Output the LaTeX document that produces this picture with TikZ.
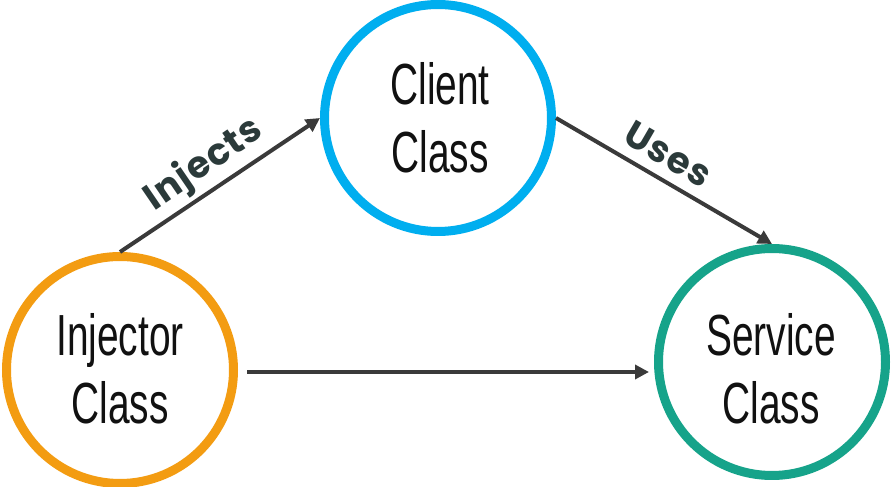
\documentclass[tikz,border=0pt]{standalone}
\usepackage{fontspec}
\usetikzlibrary{arrows.meta}
\newfontfamily\condfont[FakeStretch=0.67]{Liberation Sans}
\newfontfamily\labfont[LetterSpace=3]{Poppins}
\definecolor{cblue}{RGB}{0,174,239}
\definecolor{corange}{RGB}{243,156,18}
\definecolor{cteal}{RGB}{22,163,138}
\definecolor{carrow}{RGB}{58,58,58}
\definecolor{ctext}{RGB}{17,17,17}
\definecolor{clabel}{RGB}{43,58,58}
\tikzset{
  ring/.style={circle, draw=#1, line width=9pt, minimum size=227pt, inner sep=0pt, fill=white},
  ctxt/.style={font=\condfont\fontsize{58}{68}\selectfont, text=ctext, align=center, inner sep=0pt},
  arr/.style={draw=carrow, line width=4pt, -{Triangle[length=14pt,width=14pt]}},
  lbl/.style={font=\labfont\bfseries\fontsize{37}{40}\selectfont, text=clabel, inner sep=0pt}
}
\begin{document}
\begin{tikzpicture}[x=1pt,y=1pt]
\useasboundingbox (0,0) rectangle (892,487);
\node[ring=cblue] (cli) at (438,369) {};
\node[ring=corange] (inj) at (120,117) {};
\node[ring=cteal] (svc) at (772,125) {};
\node[ctxt] (tcli) at (440,369) {Client\\Class};
\node[ctxt] (tinj) at (120,118) {Injector\\Class};
\node[ctxt] (tsvc) at (771,118) {Service\\Class};
\draw[arr] (inj.north) -- (cli.west);
\draw[arr] (cli.east) -- (svc.north);
\coordinate (hs) at ([xshift=9pt,yshift=-2pt]inj.east);
\draw[arr] (hs) -- ([xshift=-5pt]svc.west |- hs);
\node[lbl, rotate=34.4] (linj) at (204,322) {Injects};
\node[lbl, rotate=-30.2] (luse) at (668,333) {Uses};
\end{tikzpicture}
\end{document}
